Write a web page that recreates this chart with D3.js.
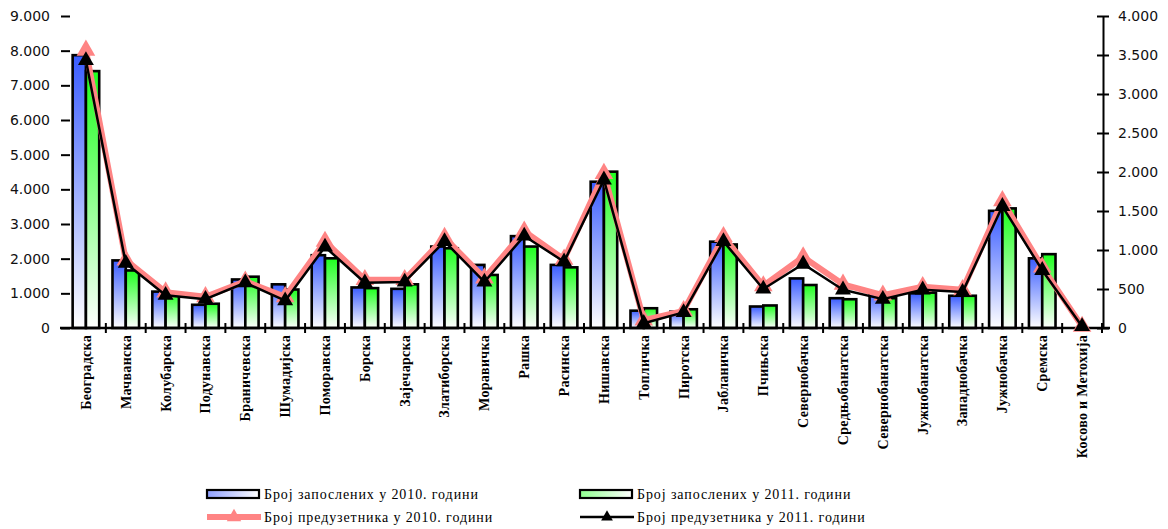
<!DOCTYPE html>
<html><head><meta charset="utf-8">
<script src="https://cdn.jsdelivr.net/npm/d3@7"></script>
<style>body{margin:0;background:#fff}svg{display:block}</style>
</head><body>
<svg id="c" width="1168" height="529"></svg>
<script>
const categories = ["Београдска","Мачванска","Колубарска","Подунавска","Браничевска","Шумадијска","Поморавска","Борска","Зајечарска","Златиборска","Моравичка","Рашка","Расинска","Нишавска","Топличка","Пиротска","Јабланичка","Пчињска","Севернобачка","Средњобанатска","Севернобанатска","Јужнобанатска","Западнобачка","Јужнобачка","Сремска","Косово и Метохија"];
const emp2010 = [7870,1950,1050,670,1400,1260,2100,1170,1130,2350,1820,2650,1820,4220,500,470,2490,620,1430,860,1030,1000,930,3380,2010,0];
const emp2011 = [7410,1660,1000,700,1480,1110,2010,1150,1260,2300,1530,2350,1750,4510,570,540,2410,650,1240,830,860,1020,930,3450,2130,0];
const ent2010 = [3560,870,460,400,600,400,1110,620,620,1160,640,1240,880,1980,100,220,1170,540,910,560,420,530,490,1630,780,20];
const ent2011 = [3430,830,420,370,580,350,1040,580,590,1110,590,1180,850,1900,60,200,1110,500,820,490,370,490,460,1560,740,20];
const leftTicks = [0,1000,2000,3000,4000,5000,6000,7000,8000,9000];
const rightTicks = [0,500,1000,1500,2000,2500,3000,3500,4000];
const legendLabels = ["Број запослених у 2010. години","Број запослених у 2011. години","Број предузетника у 2010. години","Број предузетника у 2011. години"];

const svg = d3.select("#c");
const fmt = v => v === 0 ? "0" : d3.format(",")(v).replace(/,/g, ".");
const X0 = 66, X1 = 1102, Y0 = 328, Y1 = 16;
const x = d3.scaleBand().domain(categories).range([X0, X1]).paddingInner(0).paddingOuter(0);
const xs = d3.scaleBand().domain([0,1]).range([0, x.bandwidth()]).paddingInner(0).paddingOuter(0.5);
const yL = d3.scaleLinear().domain([0, 9000]).range([Y0, Y1]);
const yR = d3.scaleLinear().domain([0, 4000]).range([Y0, Y1]);

const defs = svg.append("defs");
function grad(id, col, horiz) {
  const g = defs.append("linearGradient").attr("id", id)
    .attr("x1", 0).attr("y1", 0).attr("x2", horiz ? 1 : 0).attr("y2", horiz ? 0 : 1);
  g.append("stop").attr("offset", "0%").attr("stop-color", col);
  g.append("stop").attr("offset", "100%").attr("stop-color", "#ffffff");
}
grad("gb", "#3a5cff"); grad("gg", "#1eff1e");
grad("gbl", "#8fa0ff", true); grad("ggl", "#8fff8f", true);

// bars
const series = [{v: emp2010, g: "url(#gb)"}, {v: emp2011, g: "url(#gg)"}];
series.forEach((s, si) => {
  svg.append("g").selectAll("rect").data(categories).join("rect")
    .attr("x", c => x(c) + xs(si))
    .attr("y", (c, i) => yL(s.v[i]))
    .attr("width", xs.bandwidth())
    .attr("height", (c, i) => Y0 - yL(s.v[i]))
    .attr("fill", s.g).attr("stroke", "#000").attr("stroke-width", 2.6);
});

// left axis (ticks only)
const la = svg.append("g").attr("transform", `translate(${X0 + 4},0)`)
  .call(d3.axisLeft(yL).tickValues(leftTicks).tickFormat(fmt).tickSize(9).tickPadding(11));
la.select(".domain").remove();
la.selectAll(".tick line").attr("stroke-width", 2);
la.selectAll("text").attr("font-family", "DejaVu Sans").attr("font-size", 14).attr("fill", "#111");

// right axis
const ra = svg.append("g").attr("transform", `translate(${X1+1},0)`)
  .call(d3.axisRight(yR).tickValues(rightTicks).tickFormat(fmt).tickSizeInner(6).tickSizeOuter(0).tickPadding(9));
ra.select(".domain").attr("stroke-width", 2);
ra.selectAll(".tick line").attr("x1", -6).attr("stroke-width", 2);
ra.selectAll("text").attr("font-family", "DejaVu Sans").attr("font-size", 14).attr("fill", "#111");

// x axis
svg.append("line").attr("x1", X0 - 6).attr("x2", X1 + 8).attr("y1", Y0).attr("y2", Y0)
  .attr("stroke", "#000").attr("stroke-width", 2.5);
svg.append("g").selectAll("line").data(categories.slice(1).concat(["__end"])).join("line")
  .attr("x1", (c, i) => X0 + (i + 1) * x.bandwidth()).attr("x2", (c, i) => X0 + (i + 1) * x.bandwidth())
  .attr("y1", Y0 - 5).attr("y2", Y0 + 5).attr("stroke", "#000").attr("stroke-width", 2);
svg.append("g").selectAll("text").data(categories).join("text")
  .attr("transform", c => `translate(${x(c) + x.bandwidth() / 2},335) rotate(-90)`)
  .attr("text-anchor", "end").attr("dy", "0.35em")
  .attr("font-family", "Liberation Serif").attr("font-weight", "bold").attr("font-size", 14)
  .attr("letter-spacing", 0.3)
  .text(c => c);

// lines
const cx = c => x(c) + x.bandwidth() / 2;
const tri = d3.symbol().type(d3.symbolTriangle);
function drawLine(vals, col, w, msize) {
  const line = d3.line().x((d, i) => cx(categories[i])).y(d => yR(d));
  svg.append("path").datum(vals).attr("d", line).attr("fill", "none")
    .attr("stroke", col).attr("stroke-width", w).attr("stroke-linejoin", "round");
  svg.append("g").selectAll("path").data(vals).join("path")
    .attr("transform", (d, i) => `translate(${cx(categories[i])},${yR(d)})`)
    .attr("d", tri.size(msize)()).attr("fill", col);
}
drawLine(ent2010, "#ff8484", 6, 150);
drawLine(ent2011, "#000000", 2.5, 110);

// legend
const lg = svg.append("g").attr("font-family", "Liberation Serif").attr("font-size", 14)
  .attr("letter-spacing", 0.9).attr("fill", "#000");
const L = [{x: 207, y: 494, t: "bar", f: "url(#gbl)"}, {x: 580, y: 494, t: "bar", f: "url(#ggl)"},
           {x: 207, y: 517, t: "line", c: "#ff8484", w: 6, s: 90}, {x: 580, y: 517, t: "line", c: "#000", w: 2.5, s: 60}];
L.forEach((d, i) => {
  if (d.t === "bar") {
    lg.append("rect").attr("x", d.x).attr("y", d.y - 4).attr("width", 52).attr("height", 8)
      .attr("fill", d.f).attr("stroke", "#000").attr("stroke-width", 2.2);
  } else {
    lg.append("line").attr("x1", d.x).attr("x2", d.x + 54).attr("y1", d.y).attr("y2", d.y)
      .attr("stroke", d.c).attr("stroke-width", d.w);
    lg.append("path").attr("transform", `translate(${d.x + 27},${d.y})`).attr("d", tri.size(d.s)()).attr("fill", d.c);
  }
  lg.append("text").attr("x", d.x + 57).attr("y", d.y).attr("dy", "0.35em").text(legendLabels[i]);
});
</script>
</body></html>
